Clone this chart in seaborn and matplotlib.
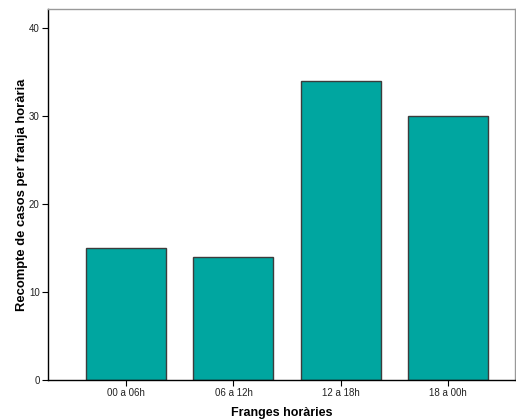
import pandas as pd
import numpy as np
import seaborn as sns
import matplotlib.pyplot as plt

# dades del gràfic
franges = ['00 a 06h', '06 a 12h', '12 a 18h', '18 a 00h']
recompte = [15, 14, 34, 30]

df = pd.DataFrame({'franja': franges, 'casos': recompte})

sns.set_style('white')
plt.rcParams['font.family'] = ['Liberation Sans', 'DejaVu Sans']
fig = plt.figure(figsize=(5.16, 4.19), dpi=100)
ax = fig.add_axes([0.093, 0.093, 0.905, 0.886])

sns.barplot(data=df, x='franja', y='casos', color='#00a6a0', saturation=1,
            width=0.744, edgecolor='#3c3c3c', linewidth=1, ax=ax)

ax.set_xlim(-0.726, 3.62)
ax.set_ylim(0, 42.16)
ax.set_yticks([0, 10, 20, 30, 40])
ax.tick_params(axis='both', labelsize=7, colors='black', length=4, width=0.8,
               direction='out', left=True, bottom=True, pad=2)
ax.tick_params(axis='both', labelcolor='#222222')

ax.set_xlabel('Franges horàries', fontsize=9, fontweight='bold', labelpad=6, color='black')
ax.set_ylabel('Recompte de casos per franja horària', fontsize=9.4, fontweight='bold',
              labelpad=1, color='black')

for s in ['left', 'bottom']:
    ax.spines[s].set_color('black')
    ax.spines[s].set_linewidth(1)
for s in ['top', 'right']:
    ax.spines[s].set_color('#999999')
    ax.spines[s].set_linewidth(1)

fig.savefig('out.png', dpi=100)
